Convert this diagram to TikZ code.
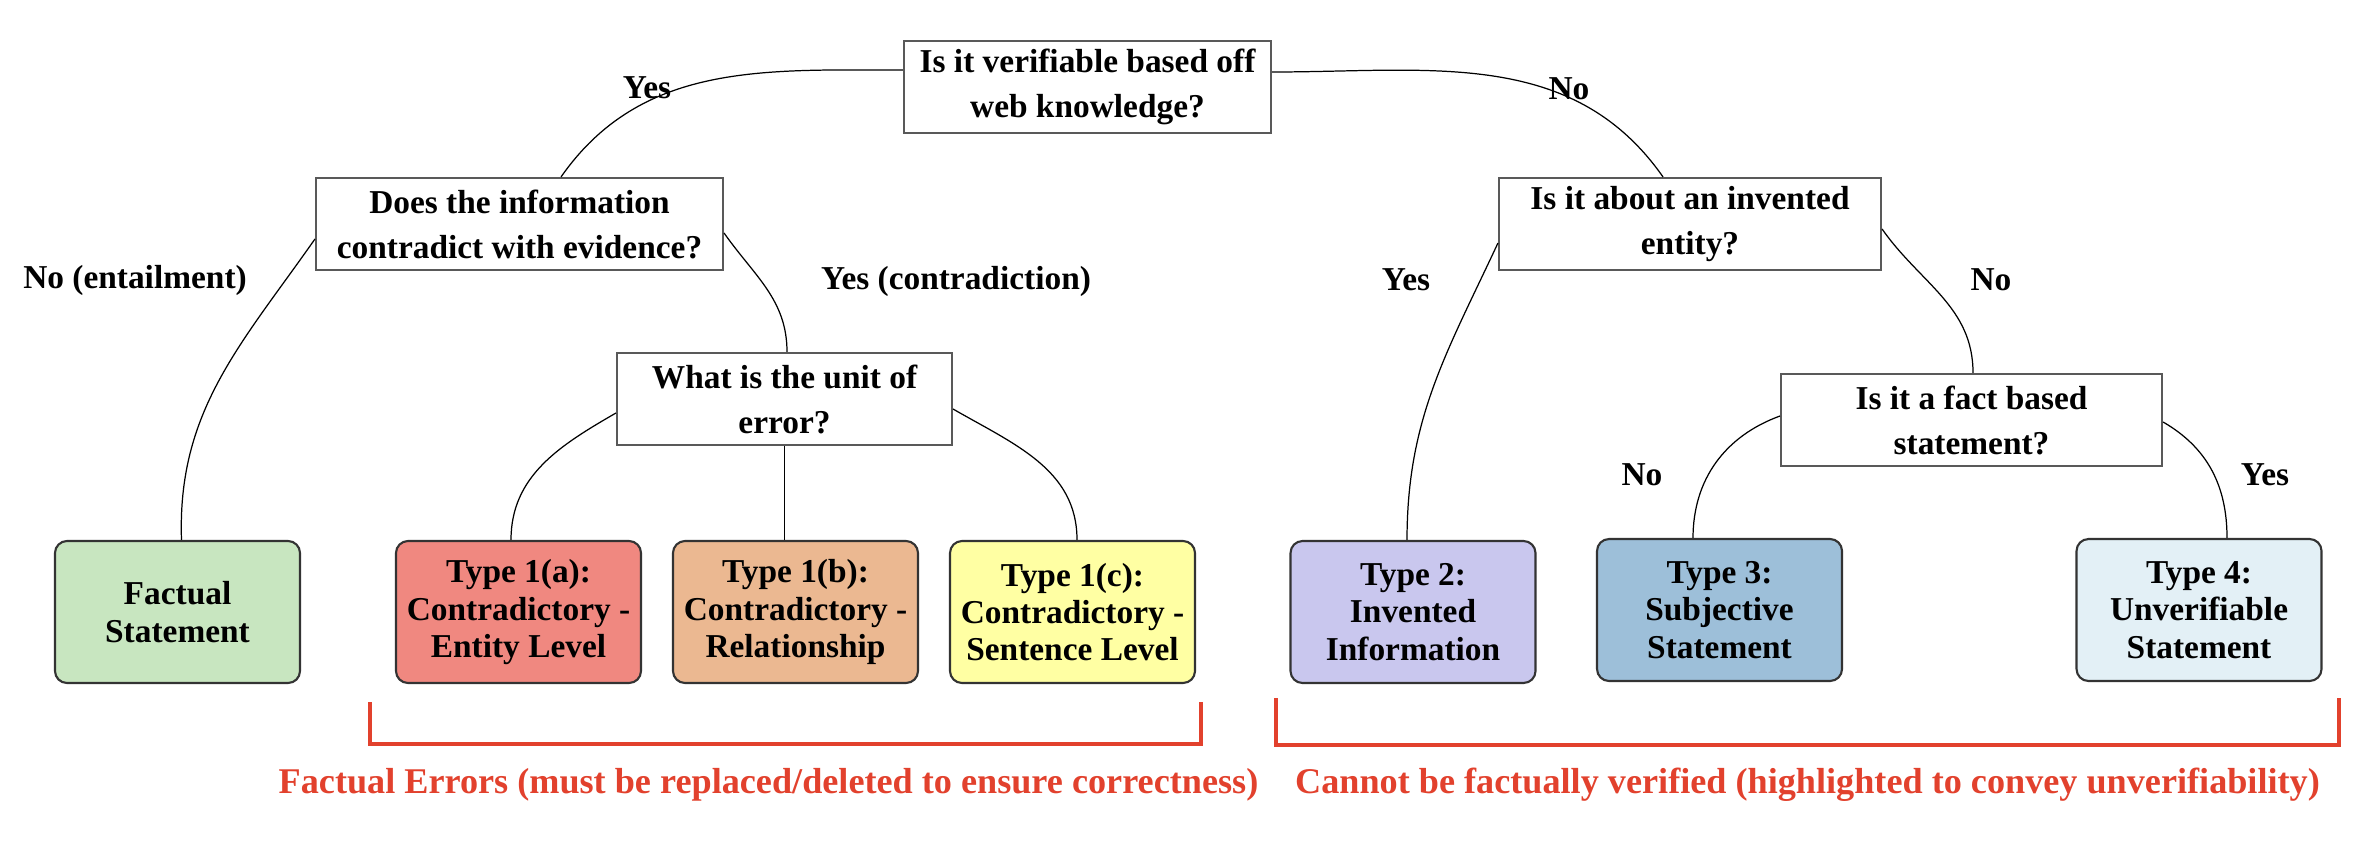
\documentclass[tikz,border=0pt]{standalone}
\usepackage{fontspec}
\setmainfont{Liberation Serif}
\usepackage{xcolor}
\usetikzlibrary{positioning, calc}

\definecolor{verde}{RGB}{200,230,192}
\definecolor{salmon}{RGB}{240,136,128}
\definecolor{naranja}{RGB}{235,184,145}
\definecolor{amarillo}{RGB}{255,255,163}
\definecolor{lavanda}{RGB}{201,199,238}
\definecolor{azul}{RGB}{157,191,217}
\definecolor{celeste}{RGB}{227,240,246}
\definecolor{rojo}{RGB}{226,65,45}

\begin{document}
\begin{tikzpicture}[text=black,
    pregunta/.style={draw=black!65, line width=0.6pt, rectangle, fill=white, minimum height=0.92cm, inner sep=0pt, align=center, font=\fontsize{9.5}{12.8}\selectfont\bfseries},
    tipo/.style={draw=black!80, line width=0.6pt, rectangle, rounded corners=0.12cm, minimum height=1.42cm, minimum width=2.45cm, inner sep=0pt, align=center, font=\fontsize{9.5}{10.6}\selectfont\bfseries},
    rama/.style={font=\fontsize{9.5}{11}\selectfont\bfseries},
    conector/.style={draw=black, line width=0.35pt},
    llave/.style={draw=rojo, line width=0.9pt},
    grupo/.style={text=rojo, font=\fontsize{10.3}{12}\selectfont\bfseries}]

    \useasboundingbox (0,0) rectangle (23.74,-8.48);

    % Nodos de preguntas
    \node[pregunta, minimum width=3.67cm] (root) at (10.875,-0.87) {Is it verifiable based off\\web knowledge?};
    \node[pregunta, minimum width=4.07cm, node distance=1.37cm, below of=root, xshift=-5.68cm] (q1) {Does the information\\contradict with evidence?};
    \node[pregunta, minimum width=3.35cm, node distance=1.75cm, below of=q1, xshift=2.65cm] (q2) {What is the unit of\\error?};
    \node[pregunta, minimum width=3.82cm, node distance=1.37cm, below of=root, xshift=6.025cm] (q3) {Is it about an invented\\entity?};
    \node[pregunta, minimum width=3.81cm, node distance=1.96cm, below of=q3, xshift=2.815cm] (q4) {Is it a fact based\\statement?};

    % Nodos de tipos
    \node[tipo, fill=verde, node distance=3.88cm, below of=q1, xshift=-3.42cm] (fact) {Factual\\Statement};
    \node[tipo, fill=naranja, node distance=2.13cm, below of=q2, xshift=0.11cm] (t1b) {Type 1(b):\\Contradictory -\\Relationship};
    \node[tipo, fill=salmon, node distance=2.77cm, left of=t1b] (t1a) {Type 1(a):\\Contradictory -\\Entity Level};
    \node[tipo, fill=amarillo, node distance=2.77cm, right of=t1b] (t1c) {Type 1(c):\\Contradictory -\\Sentence Level};
    \node[tipo, fill=lavanda, node distance=3.88cm, below of=q3, xshift=-2.77cm] (t2) {Type 2:\\Invented\\Information};
    \node[tipo, fill=azul, node distance=1.90cm, below of=q4, xshift=-2.52cm] (t3) {Type 3:\\Subjective\\Statement};
    \node[tipo, fill=celeste, node distance=1.90cm, below of=q4, xshift=2.275cm] (t4) {Type 4:\\Unverifiable\\Statement};

    % Conexiones
    \draw[conector] ([yshift=0.17cm]root.west) to[out=180, in=55] ([xshift=0.415cm]q1.north);
    \draw[conector] ([yshift=0.15cm]root.east) to[out=0, in=125] ([xshift=-0.27cm]q3.north);
    \draw[conector] ([yshift=-0.15cm]q1.west) to[out=235, in=92] ([xshift=0.04cm]fact.north);
    \draw[conector] ([yshift=-0.09cm]q1.east) to[out=-55, in=90] ([xshift=0.025cm]q2.north);
    \draw[conector] ([yshift=-0.14cm]q2.west) to[out=210, in=90] ([xshift=-0.075cm]t1a.north);
    \draw[conector] (q2.south) -- (q2.south |- t1b.north);
    \draw[conector] ([yshift=-0.10cm]q2.east) to[out=-30, in=90] ([xshift=0.045cm]t1c.north);
    \draw[conector] ([yshift=-0.19cm]q3.west) to[out=245, in=90] ([xshift=-0.06cm]t2.north);
    \draw[conector] ([yshift=-0.05cm]q3.east) to[out=-55, in=90] ([xshift=0.015cm]q4.north);
    \draw[conector] ([yshift=0.04cm]q4.west) to[out=200, in=90] ([xshift=-0.265cm]t3.north);
    \draw[conector] ([yshift=-0.02cm]q4.east) to[out=-30, in=90] ([xshift=0.28cm]t4.north);

    % Etiquetas de ramas
    \node[rama] (yes1) at (6.47,-0.88) {Yes};
    \node[rama] (no1) at (15.69,-0.89) {No};
    \node[rama] (no2) at (1.35,-2.80) {No (entailment)};
    \node[rama] (yes2) at (9.56,-2.81) {Yes (contradiction)};
    \node[rama] (yes3) at (14.06,-2.80) {Yes};
    \node[rama] (no3) at (19.91,-2.80) {No};
    \node[rama] (no4) at (16.42,-4.75) {No};
    \node[rama] (yes4) at (22.65,-4.75) {Yes};

    % Agrupaciones
    \draw[llave] (3.70,-7.02) -- (3.70,-7.44) -- (12.01,-7.44) -- (12.01,-7.02);
    \draw[llave] (12.76,-6.98) -- (12.76,-7.45) -- (23.39,-7.45) -- (23.39,-6.98);
    \node[grupo] (errores) at (7.685,-7.85) {Factual Errors (must be replaced/deleted to ensure correctness)};
    \node[grupo] (noverif) at (18.075,-7.85) {Cannot be factually verified (highlighted to convey unverifiability)};

\end{tikzpicture}
\end{document}
